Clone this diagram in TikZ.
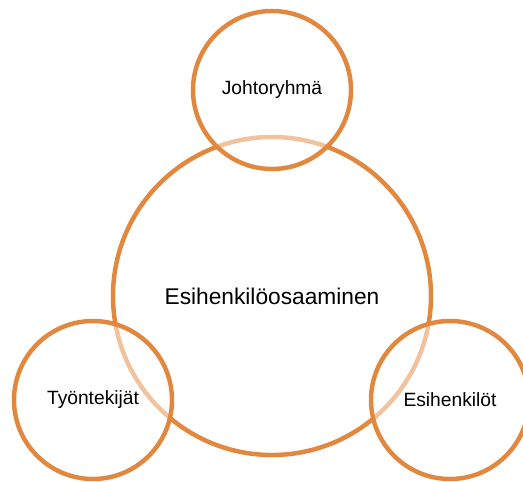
\documentclass[tikz,border=0pt]{standalone}
\usepackage{fontspec}
\setmainfont{Liberation Sans}
\usepackage{tikz}
\usetikzlibrary{shapes,positioning}
\usepackage{xcolor}
\definecolor{ringorange}{RGB}{226,136,62}

\begin{document}
\begin{tikzpicture}[
    bigring/.style={circle, draw=ringorange, line width=3.8pt,
        minimum size=9.54cm, inner sep=0pt,
        font=\fontsize{19.4}{23}\selectfont},
    smallring/.style={circle, draw=ringorange, line width=3.8pt,
        fill=white, fill opacity=0.5, text opacity=1,
        minimum size=4.74cm, inner sep=0pt,
        font=\fontsize{16.4}{20}\selectfont}
]
    \useasboundingbox (-8.16,-5.58) rectangle (7.53,8.88);
    \node[bigring] (core) at (0,0) {Esihenkilöosaaminen};
    \node[smallring] (top) at (0,6.18) {Johtoryhmä};
    \node[smallring] (left) at (-5.37,-3.12) {Työntekijät};
    \node[smallring] (right) at (5.34,-3.12) {Esihenkilöt};
\end{tikzpicture}
\end{document}
